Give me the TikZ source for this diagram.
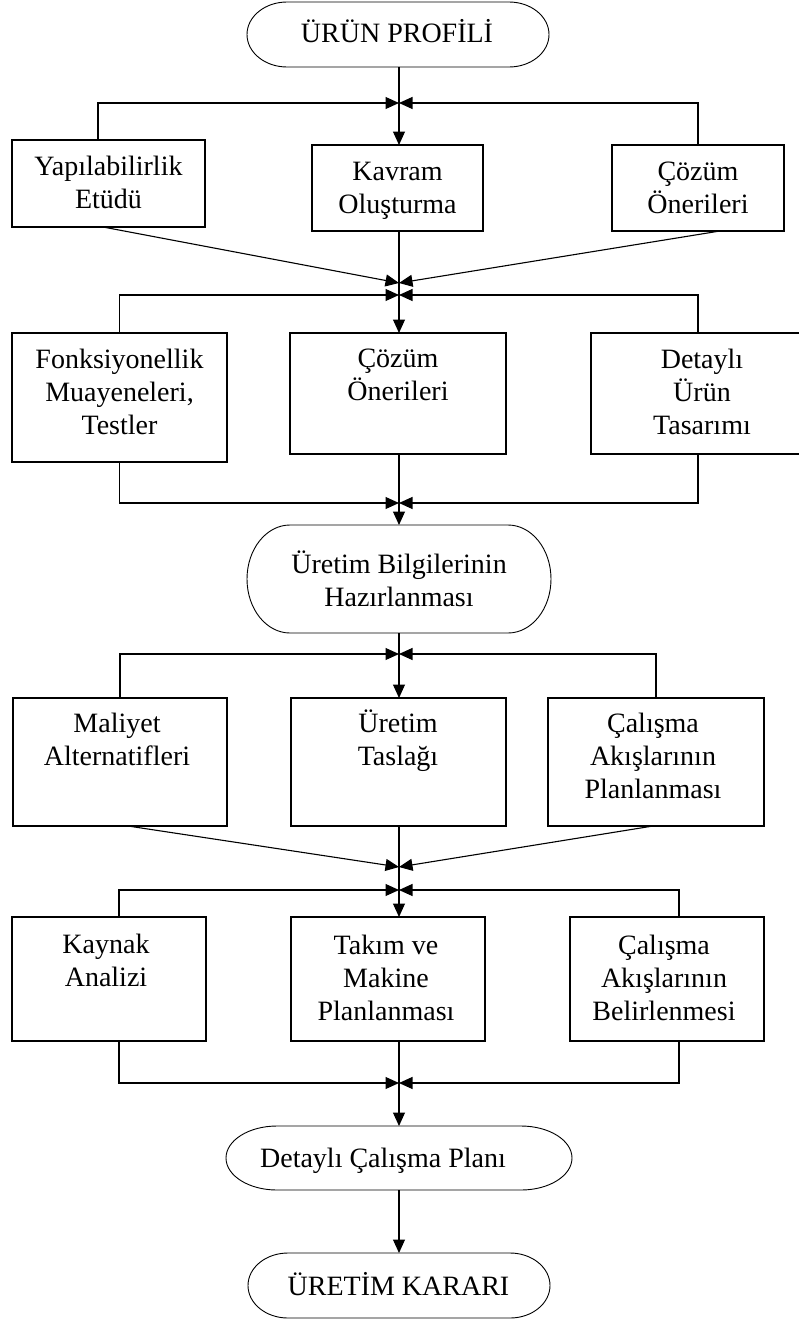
\documentclass[tikz,border=0pt]{standalone}
\usepackage{fontspec}
\setmainfont{Liberation Serif}
\usetikzlibrary{arrows.meta}

% centred stack of lines; the baseline is that of the first line
\newcommand\stk[1]{\vtop{\halign{\hfil##\hfil\cr#1\crcr}}}
% outline of a terminal with elliptic ends: node name, x radius, y radius (pt)
\newcommand\termline[3]{%
  \draw[termedge] ([xshift=#2]#1.north west) -- ([xshift=-#2]#1.north east)
    arc[start angle=90,end angle=-90,x radius=#2pt,y radius=#3pt]
    -- ([xshift=#2]#1.south west)
    arc[start angle=270,end angle=90,x radius=#2pt,y radius=#3pt] -- cycle;}

\tikzset{
  stepbox/.style={draw, line width=1.1pt, inner sep=0pt, outer sep=0pt, anchor=north west},
  termbox/.style={draw=none, inner sep=0pt, outer sep=0pt, anchor=north west},
  termedge/.style={line width=0.9pt},
  txt/.style={inner sep=0pt, anchor=base, font=\fontsize{28}{33}\selectfont},
  arr/.style={line width=1.1pt, -{Triangle[length=13.5pt,width=12pt]}},
}

\begin{document}
\begin{tikzpicture}[x=1pt,y=-1pt]
\useasboundingbox (0,0) rectangle (799,1322);
\fill[white] (0,0) rectangle (799,1322);
\clip (0,0) rectangle (799,1322);

% junctions on the main column
\coordinate (j1)  at (399,103);
\coordinate (j2a) at (399,283);
\coordinate (j2b) at (399,295);
\coordinate (j3)  at (399,503);
\coordinate (j4)  at (399,654);
\coordinate (j5a) at (399,867);
\coordinate (j5b) at (399,890);
\coordinate (j6)  at (399,1083);

% terminals
\node[termbox, minimum width=302, minimum height=65]  (t1) at (247,2) {};
\node[termbox, minimum width=304, minimum height=108] (t2) at (247,525) {};
\node[termbox, minimum width=346, minimum height=64]  (t3) at (226,1126) {};
\node[termbox, minimum width=302, minimum height=65]  (t4) at (248,1253) {};
\termline{t1}{40}{32.5}
\termline{t2}{43}{54}
\termline{t3}{51}{32}
\termline{t4}{40}{32.5}

% row 1
\node[stepbox, minimum width=193, minimum height=87] (yap)  at (12,140) {};
\node[stepbox, minimum width=171, minimum height=86] (kav)  at (312,145) {};
\node[stepbox, minimum width=172, minimum height=86] (coz1) at (612,145) {};
% row 2
\node[stepbox, minimum width=215, minimum height=129] (fonk) at (12,333) {};
\node[stepbox, minimum width=216, minimum height=121] (coz2) at (290,333) {};
\node[stepbox, minimum width=214, minimum height=121] (det)  at (591,333) {};
% row 3
\node[stepbox, minimum width=214, minimum height=128] (mal)  at (13,698) {};
\node[stepbox, minimum width=215, minimum height=128] (tas)  at (291,698) {};
\node[stepbox, minimum width=216, minimum height=128] (cal1) at (548,698) {};
% row 4
\node[stepbox, minimum width=194, minimum height=124] (kay)  at (12,917) {};
\node[stepbox, minimum width=194, minimum height=124] (tak)  at (291,917) {};
\node[stepbox, minimum width=194, minimum height=124] (cal2) at (570,917) {};

% texts
\node[txt] (t1-t)   at (397,43)    {ÜRÜN PROFİLİ};
\node[txt] (yap-t)  at (108.5,175) {\stk{Yapılabilirlik\cr Etüdü}};
\node[txt] (kav-t)  at (397.5,180) {\stk{Kavram\cr Oluşturma}};
\node[txt] (coz1-t) at (698,180)   {\stk{Çözüm\cr Önerileri}};
\node[txt] (fonk-t) at (119.5,368) {\stk{Fonksiyonellik\cr Muayeneleri,\cr Testler}};
\node[txt] (coz2-t) at (398,367)   {\stk{Çözüm\cr Önerileri}};
\node[txt] (det-t)  at (702,368)   {\stk{Detaylı\cr Ürün\cr Tasarımı}};
\node[txt] (t2-t)   at (399,573)   {\stk{Üretim Bilgilerinin\cr Hazırlanması}};
\node[txt] (mal-t)  at (117,732)   {\stk{Maliyet\cr Alternatifleri}};
\node[txt] (tas-t)  at (398,732)   {\stk{Üretim\cr Taslağı}};
\node[txt] (cal1-t) at (653,732)   {\stk{Çalışma\cr Akışlarının\cr Planlanması}};
\node[txt] (kay-t)  at (106,953)   {\stk{Kaynak\cr Analizi}};
\node[txt] (tak-t)  at (386,954)   {\stk{Takım ve\cr Makine\cr Planlanması}};
\node[txt] (cal2-t) at (664,954)   {\stk{Çalışma\cr Akışlarının\cr Belirlenmesi}};
\node[txt] (t3-t)   at (383,1167)  {Detaylı Çalışma Planı};
\node[txt] (t4-t)   at (398.5,1295){ÜRETİM KARARI};

% main column
\draw[arr] (t1.south -| j1) -- (kav.north -| j1);
\draw[arr] (kav.south -| j1) -- (coz2.north -| j1);
\draw[arr] (coz2.south -| j3) -- (t2.north -| j3);
\draw[arr] (t2.south -| j4) -- (tas.north -| j4);
\draw[arr] (tas.south -| j5a) -- (tak.north -| j5a);
\draw[arr] (tak.south -| j6) -- (t3.north -| j6);
\draw[arr] (t3.south -| j6) -- (t4.north -| j6);

% side branches, row 1
\draw[arr] ([xshift=-10.5]yap.north) |- (j1);
\draw[arr] (coz1.north) |- (j1);
\draw[arr] ([xshift=-5.5]yap.south) -- (j2a);
\draw[arr] ([xshift=22]coz1.south) -- (j2a);
% row 2
\draw[arr] (fonk.north) |- (j2b);
\draw[arr] (det.north) |- (j2b);
\draw[arr] (fonk.south) |- (j3);
\draw[arr] (det.south) |- (j3);
% row 3
\draw[arr] (mal.north) |- (j4);
\draw[arr] (cal1.north) |- (j4);
\draw[arr] ([xshift=8]mal.south) -- (j5a);
\draw[arr] ([xshift=-3]cal1.south) -- (j5a);
% row 4
\draw[arr] ([xshift=10]kay.north) |- (j5b);
\draw[arr] ([xshift=12]cal2.north) |- (j5b);
\draw[arr] ([xshift=10]kay.south) |- (j6);
\draw[arr] ([xshift=12]cal2.south) |- (j6);
\end{tikzpicture}
\end{document}
